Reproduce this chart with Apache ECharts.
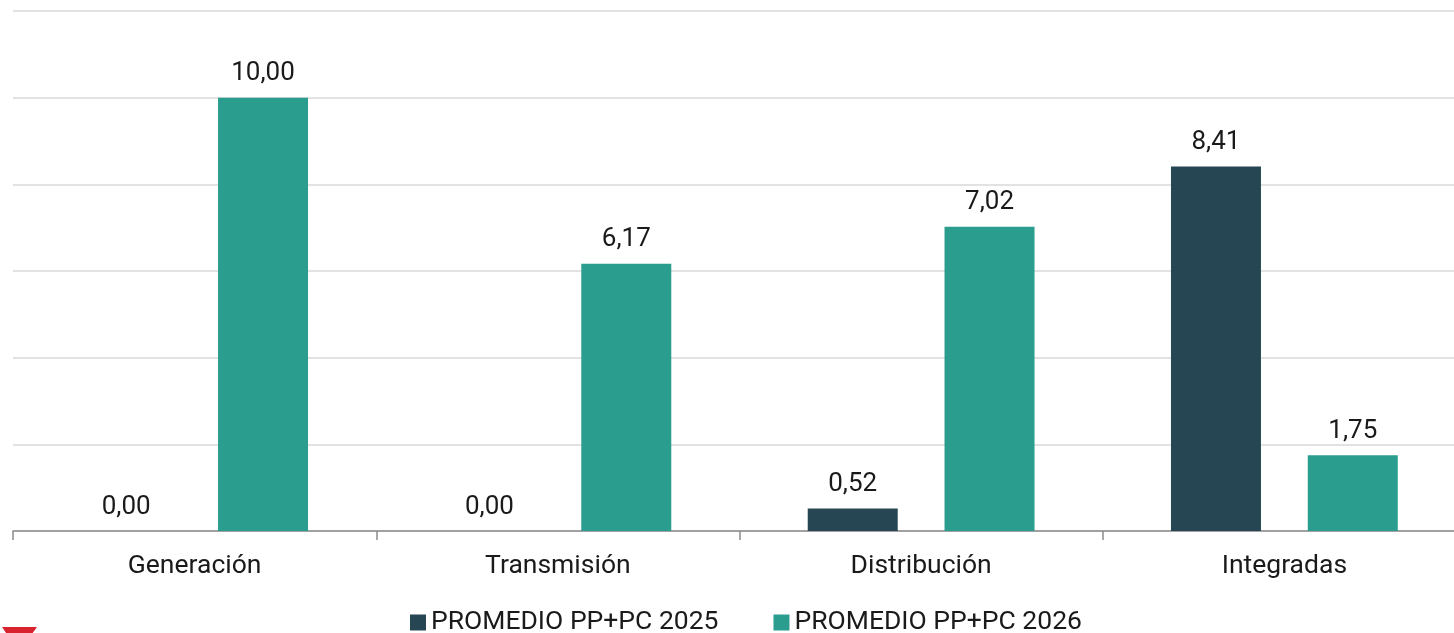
<!DOCTYPE html>
<html><head><meta charset="utf-8">
<script src="https://cdn.jsdelivr.net/npm/echarts@6/dist/echarts.min.js"></script>
<style>html,body{margin:0;padding:0;background:#fff;overflow:hidden;width:1454px;height:633px}#c{width:1466px;height:633px}</style>
</head><body><div id="c"></div>
<script>
const categories = ['Generación', 'Transmisión', 'Distribución', 'Integradas'];
const seriesNames = ['PROMEDIO PP+PC 2025', 'PROMEDIO PP+PC 2026'];
const values2025 = [0.00, 0.00, 0.52, 8.41];
const values2026 = [10.00, 6.17, 7.02, 1.75];

const fmt = p => p.value.toFixed(2).replace('.', ',');
const chart = echarts.init(document.getElementById('c'), null, {renderer: 'canvas'});
const labelStyle = {show: true, position: 'top', distance: 11, formatter: fmt, fontSize: 26, color: '#1a1a1a', fontFamily: 'Roboto'};
chart.setOption({
  animation: false,
  textStyle: {fontFamily: 'Roboto'},
  grid: {left: 13, top: 11, right: 0, bottom: 102, containLabel: false},
  legend: {
    data: seriesNames, top: 609, left: 410, padding: 0, itemWidth: 16, itemHeight: 16, itemGap: 55,
    icon: 'rect', textStyle: {fontSize: 26.5, color: '#1a1a1a', fontFamily: 'Roboto'}
  },
  xAxis: {
    type: 'category', data: categories,
    axisLine: {lineStyle: {color: '#8c8c8c', width: 1.5}},
    axisTick: {show: true, length: 9, lineStyle: {color: '#8c8c8c', width: 1.5}},
    axisLabel: {fontSize: 26.5, color: '#1a1a1a', margin: 22, fontFamily: 'Roboto'}
  },
  yAxis: {
    type: 'value', min: 0, max: 12, interval: 2,
    axisLabel: {show: false}, axisLine: {show: false}, axisTick: {show: false},
    splitLine: {lineStyle: {color: '#d9d9d9', width: 1.5}}
  },
  series: [
    {name: seriesNames[0], type: 'bar', data: values2025, barWidth: 90, barGap: '52%', itemStyle: {color: '#264653'}, label: labelStyle},
    {name: seriesNames[1], type: 'bar', data: values2026, barWidth: 90, barGap: '52%', itemStyle: {color: '#2a9d8f'}, label: labelStyle}
  ],
  graphic: [{type: 'polygon', shape: {points: [[2, 627], [37, 627], [19, 652]]}, style: {fill: '#d9232e'}}]
});
</script></body></html>
